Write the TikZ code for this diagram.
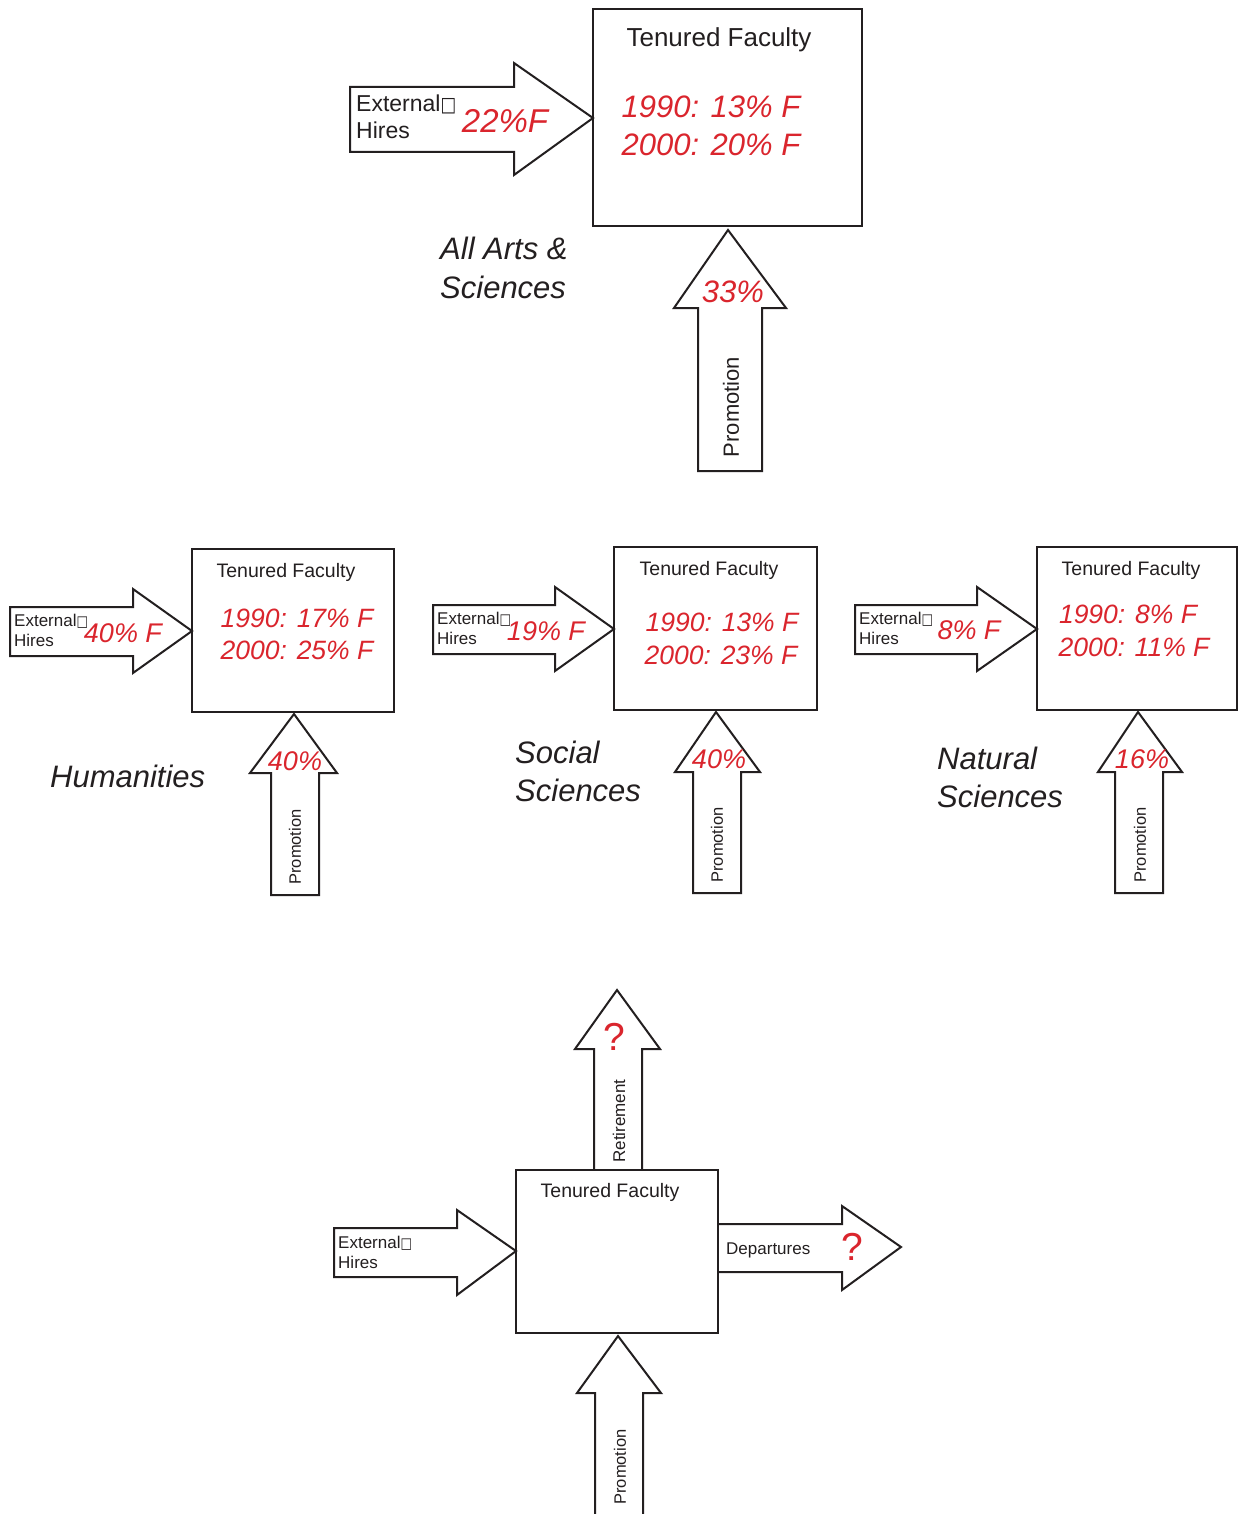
\documentclass[tikz,border=0pt]{standalone}
\usepackage{fontspec}
\setmainfont{Liberation Sans}
\newfontfamily\boxglyph{DejaVu Sans}
\definecolor{linec}{RGB}{35,31,32}
\definecolor{redc}{RGB}{218,37,45}
\newcommand{\fsz}[1]{\fontsize{#1}{#1}\selectfont}
\newcommand{\extword}{External\scalebox{0.72}[0.88]{\boxglyph\char"25A1}}
\begin{document}
\begin{tikzpicture}[x=1pt,y=-1pt,
  shapeline/.style={draw=linec, line width=2pt, fill=white, line join=miter},
  txt/.style={inner sep=0pt, text=linec},
  redtxt/.style={inner sep=0pt, text=redc, font=\itshape},
  qmark/.style={inner sep=0pt, text=redc},
  ]
\clip (0,0) rectangle (1238,1514);
\fill[white] (0,0) rectangle (1238,1514);

% ================= TOP PANEL =================
\draw[shapeline] (593,9) rectangle (862,226);
\draw[shapeline] (350,87) -- (514,87) -- (514,63) -- (593,118) -- (514,175) -- (514,152) -- (350,152) -- cycle;
\draw[shapeline] (698,471) -- (698,308) -- (674,308) -- (728,230) -- (786,308) -- (762,308) -- (762,471) -- cycle;
\node[txt, anchor=base, font=\fsz{26}] (tfA) at (719,47) {Tenured Faculty};
\node[redtxt, anchor=base, font=\fsz{31}\itshape] (yA1) at (711,118) {1990: 13\% F};
\node[redtxt, anchor=base, font=\fsz{31}\itshape] (yA2) at (711,156) {2000: 20\% F};
\node[txt, anchor=base west, font=\fsz{23}] (exA1) at (356,112) {\extword};
\node[txt, anchor=base west, font=\fsz{23}] (exA2) at (356,139) {Hires};
\node[redtxt, anchor=base, font=\fsz{33}\itshape] (pA) at (505,133) {22\%F};
\node[redtxt, anchor=base, font=\fsz{31}\itshape] (prA) at (733,302) {33\%};
\node[txt, rotate=90, font=\fsz{22}] (promA) at (731,407) {Promotion};
\node[txt, anchor=base west, font=\fsz{31}\itshape] (lA1) at (440,260) {All Arts \&};
\node[txt, anchor=base west, font=\fsz{31}\itshape] (lA2) at (440,298) {Sciences};

% ================= HUMANITIES =================
\draw[shapeline] (192,549) rectangle (394,712);
\draw[shapeline] (10,607) -- (133,607) -- (133,589) -- (192,631) -- (133,673) -- (133,656) -- (10,656) -- cycle;
\draw[shapeline] (271,895) -- (271,773) -- (250,773) -- (294,714) -- (337,773) -- (319,773) -- (319,895) -- cycle;
\node[txt, anchor=base, font=\fsz{19.5}] (tfH) at (286,577) {Tenured Faculty};
\node[redtxt, anchor=base, font=\fsz{26.5}\itshape] (yH1) at (297,627) {1990: 17\% F};
\node[redtxt, anchor=base, font=\fsz{26.5}\itshape] (yH2) at (297,659) {2000: 25\% F};
\node[txt, anchor=base west, font=\fsz{17}] (exH1) at (14,626) {\extword};
\node[txt, anchor=base west, font=\fsz{17}] (exH2) at (14,646) {Hires};
\node[redtxt, anchor=base, font=\fsz{27}\itshape] (pH) at (123,642) {40\% F};
\node[redtxt, anchor=base, font=\fsz{27}\itshape] (prH) at (295,770) {40\%};
\node[txt, rotate=90, font=\fsz{16.5}] (promH) at (295,847) {Promotion};
\node[txt, anchor=base west, font=\fsz{31}\itshape] (lH) at (50,787) {Humanities};

% ================= SOCIAL SCIENCES =================
\draw[shapeline] (614,547) rectangle (817,710);
\draw[shapeline] (433,605) -- (555,605) -- (555,587) -- (614,629) -- (555,671) -- (555,654) -- (433,654) -- cycle;
\draw[shapeline] (693,893) -- (693,772) -- (675,772) -- (716,712) -- (760,772) -- (741,772) -- (741,893) -- cycle;
\node[txt, anchor=base, font=\fsz{19.5}] (tfS) at (709,575) {Tenured Faculty};
\node[redtxt, anchor=base, font=\fsz{26.5}\itshape] (yS1) at (722,631) {1990: 13\% F};
\node[redtxt, anchor=base, font=\fsz{26.5}\itshape] (yS2) at (721,664) {2000: 23\% F};
\node[txt, anchor=base west, font=\fsz{17}] (exS1) at (437,624) {\extword};
\node[txt, anchor=base west, font=\fsz{17}] (exS2) at (437,644) {Hires};
\node[redtxt, anchor=base, font=\fsz{27}\itshape] (pS) at (546,640) {19\% F};
\node[redtxt, anchor=base, font=\fsz{27}\itshape] (prS) at (719,768) {40\%};
\node[txt, rotate=90, font=\fsz{16.5}] (promS) at (717,845) {Promotion};
\node[txt, anchor=base west, font=\fsz{31}\itshape] (lS1) at (515,763) {Social};
\node[txt, anchor=base west, font=\fsz{31}\itshape] (lS2) at (515,801) {Sciences};

% ================= NATURAL SCIENCES =================
\draw[shapeline] (1037,547) rectangle (1237,710);
\draw[shapeline] (855,605) -- (977,605) -- (977,587) -- (1037,629) -- (977,671) -- (977,654) -- (855,654) -- cycle;
\draw[shapeline] (1115,893) -- (1115,772) -- (1098,772) -- (1138,712) -- (1182,772) -- (1163,772) -- (1163,893) -- cycle;
\node[txt, anchor=base, font=\fsz{19.5}] (tfN) at (1131,575) {Tenured Faculty};
\node[redtxt, anchor=base, font=\fsz{26.5}\itshape] (yN1) at (1128,623) {1990: 8\% F};
\node[redtxt, anchor=base, font=\fsz{26.5}\itshape] (yN2) at (1134,656) {2000: 11\% F};
\node[txt, anchor=base west, font=\fsz{17}] (exN1) at (859,624) {\extword};
\node[txt, anchor=base west, font=\fsz{17}] (exN2) at (859,644) {Hires};
\node[redtxt, anchor=base, font=\fsz{27}\itshape] (pN) at (969,639) {8\% F};
\node[redtxt, anchor=base, font=\fsz{27}\itshape] (prN) at (1142,768) {16\%};
\node[txt, rotate=90, font=\fsz{16.5}] (promN) at (1140,845) {Promotion};
\node[txt, anchor=base west, font=\fsz{31}\itshape] (lN1) at (937,769) {Natural};
\node[txt, anchor=base west, font=\fsz{31}\itshape] (lN2) at (937,807) {Sciences};

% ================= BOTTOM PANEL =================
\draw[shapeline] (594,1170) -- (594,1049) -- (575,1049) -- (617,990) -- (660,1049) -- (642,1049) -- (642,1170);
\draw[shapeline] (718,1224) -- (842,1224) -- (842,1206) -- (901,1247) -- (842,1290) -- (842,1272) -- (718,1272);
\draw[shapeline] (516,1170) rectangle (718,1333);
\draw[shapeline] (334,1228) -- (457,1228) -- (457,1210) -- (516,1251) -- (457,1295) -- (457,1277) -- (334,1277) -- cycle;
\draw[shapeline] (595,1530) -- (595,1393) -- (577,1393) -- (618,1336) -- (661,1393) -- (643,1393) -- (643,1530);
\node[txt, anchor=base, font=\fsz{19.5}] (tfB) at (610,1197) {Tenured Faculty};
\node[txt, anchor=base west, font=\fsz{17}] (exB1) at (338,1248) {\extword};
\node[txt, anchor=base west, font=\fsz{17}] (exB2) at (338,1268) {Hires};
\node[qmark, anchor=base, font=\fsz{39}] (qR) at (614,1050) {?};
\node[txt, rotate=90, font=\fsz{17}] (ret) at (619,1121) {Retirement};
\node[txt, anchor=base west, font=\fsz{17}] (dep) at (726,1254) {Departures};
\node[qmark, anchor=base, font=\fsz{39}] (qD) at (852,1260) {?};
\node[txt, rotate=90, font=\fsz{16.5}] (promB) at (620,1467) {Promotion};
\end{tikzpicture}
\end{document}
